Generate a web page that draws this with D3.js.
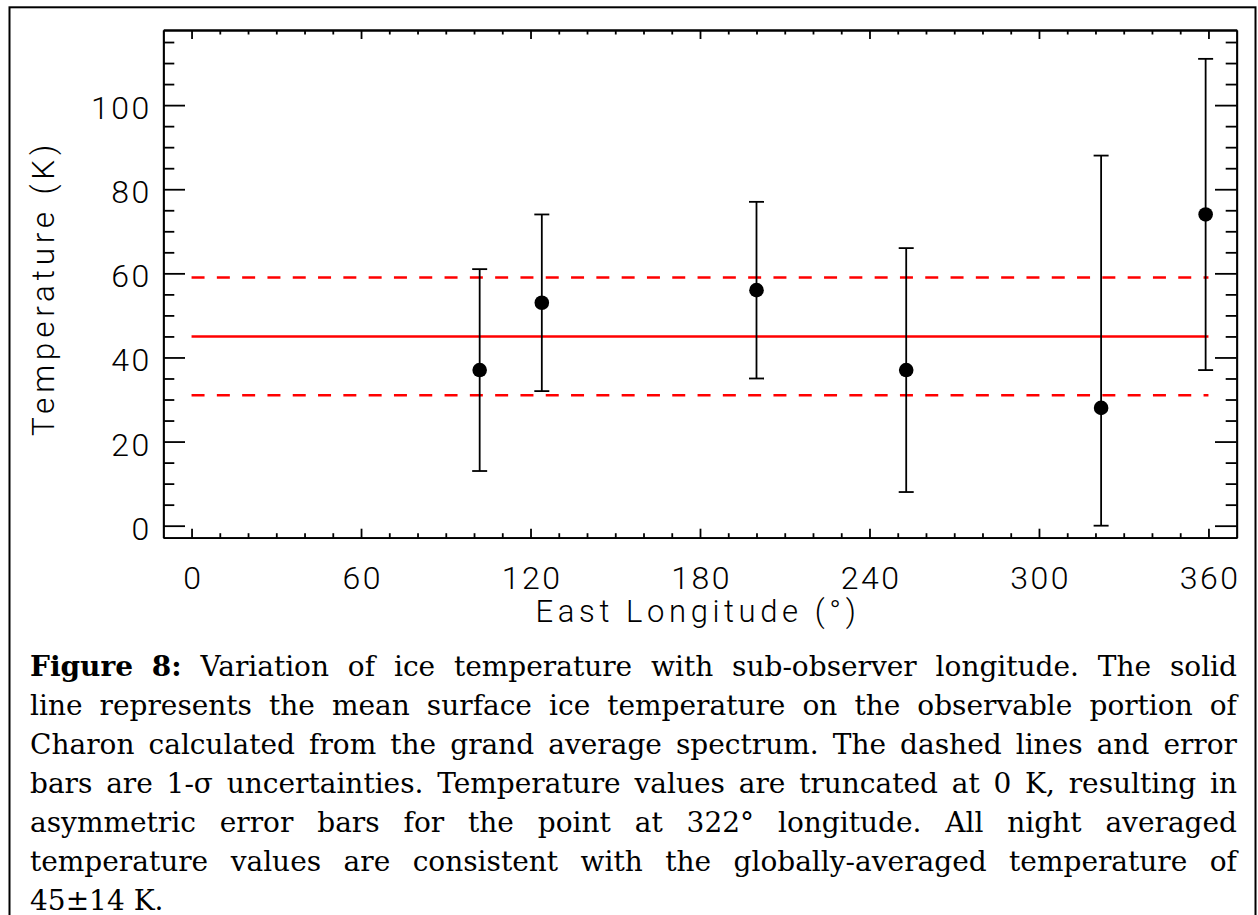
<!DOCTYPE html>
<html>
<head>
<meta charset="utf-8">
<script src="https://cdn.jsdelivr.net/npm/d3@7"></script>
<style>
  html, body { margin: 0; padding: 0; background: #fff; }
  svg { display: block; }
  .tick text { font-family: Roboto, "DejaVu Sans", sans-serif; font-weight: 300; }
</style>
</head>
<body>
<svg id="chart" width="1258" height="915"></svg>
<script>
// ---- data ----
const longitudes = [102, 124, 200, 253, 322, 359];
const temps      = [37, 53, 56, 37, 28, 74];
const errLow     = [13, 32, 35, 8, 0, 37];
const errHigh    = [61, 74, 77, 66, 88, 111];
const meanTemp   = 45;
const sigmaTemp  = 14;
const meanRange  = [0, 360];
const xTickLabels = [0, 60, 120, 180, 240, 300, 360];
const yTickLabels = [0, 20, 40, 60, 80, 100];
const xTitle = "East Longitude (°)";
const yTitle = "Temperature (K)";
const captionLines = [
  "Figure 8: Variation of ice temperature with sub-observer longitude. The solid",
  "line represents the mean surface ice temperature on the observable portion of",
  "Charon calculated from the grand average spectrum. The dashed lines and error",
  "bars are 1-σ uncertainties. Temperature values are truncated at 0 K, resulting in",
  "asymmetric error bars for the point at 322° longitude. All night averaged",
  "temperature values are consistent with the globally-averaged temperature of",
  "45±14 K."
];

// ---- layout ----
const svg = d3.select("#chart");
const L = 163.3, R = 1236.7, T = 30, B = 537.7;
const x = d3.scaleLinear().domain([-10, 370]).range([L, R]);
const y = d3.scaleLinear().domain([-2.857, 117.86]).range([B, T]);
const AX_W = 1.8;
const tickFont = 32;
const sansFont = "Roboto, 'DejaVu Sans', sans-serif";

// outer frame
svg.append("rect").attr("x", 9.5).attr("y", 7.3).attr("width", 1246).attr("height", 1000)
  .attr("fill", "none").attr("stroke", "#000").attr("stroke-width", 2);

function styleAxis(g) {
  g.select(".domain").attr("stroke", "#000").attr("stroke-width", AX_W);
  g.selectAll(".tick line").attr("stroke", "#000").attr("stroke-width", AX_W);
}

const xMinor = d3.range(0, 361, 10).filter(v => v % 60 !== 0);
const yMinor = d3.range(5, 116, 5).filter(v => v % 20 !== 0);

// bottom axis
const gB = svg.append("g").attr("transform", `translate(0,${B})`);
gB.append("g").call(d3.axisBottom(x).tickValues(xMinor).tickSizeInner(-4.5).tickSizeOuter(0).tickFormat(""))
  .call(styleAxis);
gB.append("g").call(d3.axisBottom(x).tickValues(xTickLabels).tickSizeInner(-9).tickSizeOuter(0).tickPadding(29).tickFormat(d3.format("d")))
  .call(styleAxis)
  .call(g => g.selectAll(".tick text").attr("font-size", tickFont).attr("fill", "#000")
    .attr("letter-spacing", 2.5).attr("dx", 1.2));

// top axis
const gT = svg.append("g").attr("transform", `translate(0,${T})`);
gT.append("g").call(d3.axisTop(x).tickValues(xMinor).tickSizeInner(-4.5).tickSizeOuter(0).tickFormat("")).call(styleAxis);
gT.append("g").call(d3.axisTop(x).tickValues(xTickLabels).tickSizeInner(-9).tickSizeOuter(0).tickFormat("")).call(styleAxis);

// left axis
const gL = svg.append("g").attr("transform", `translate(${L},0)`);
gL.append("g").call(d3.axisLeft(y).tickValues(yMinor).tickSizeInner(-11).tickSizeOuter(0).tickFormat("")).call(styleAxis);
gL.append("g").call(d3.axisLeft(y).tickValues(yTickLabels).tickSizeInner(-21.7).tickSizeOuter(0).tickPadding(11.5).tickFormat(d3.format("d")))
  .call(styleAxis)
  .call(g => g.selectAll(".tick text").attr("font-size", tickFont).attr("fill", "#000")
    .attr("dy", "0.42em").attr("letter-spacing", 2.5));

// right axis
const gR = svg.append("g").attr("transform", `translate(${R},0)`);
gR.append("g").call(d3.axisRight(y).tickValues(yMinor).tickSizeInner(-11).tickSizeOuter(0).tickFormat("")).call(styleAxis);
gR.append("g").call(d3.axisRight(y).tickValues(yTickLabels).tickSizeInner(-21.7).tickSizeOuter(0).tickFormat("")).call(styleAxis);

// axis titles
svg.append("text").attr("x", 698).attr("y", 622).attr("text-anchor", "middle")
  .attr("font-family", sansFont).attr("font-weight", 300)
  .attr("font-size", 31).attr("letter-spacing", 4.6).text(xTitle);
svg.append("text").attr("transform", `translate(53.5,288) rotate(-90)`).attr("text-anchor", "middle")
  .attr("font-family", sansFont).attr("font-weight", 300)
  .attr("font-size", 31.5).attr("letter-spacing", 4.8).text(yTitle);

// mean and sigma lines
const redLines = [
  { v: meanTemp, dash: null },
  { v: meanTemp + sigmaTemp, dash: "13,12.3" },
  { v: meanTemp - sigmaTemp, dash: "13,12.3" }
];
svg.append("g").selectAll("line").data(redLines).join("line")
  .attr("x1", x(meanRange[0])).attr("x2", x(meanRange[1]))
  .attr("y1", d => y(d.v)).attr("y2", d => y(d.v))
  .attr("stroke", "#ff0000").attr("stroke-width", 2.4)
  .attr("stroke-dasharray", d => d.dash);

// error bars
const pts = longitudes.map((lon, i) => ({ lon, t: temps[i], lo: errLow[i], hi: errHigh[i] }));
const eb = svg.append("g").attr("stroke", "#000").attr("stroke-width", 1.8);
eb.selectAll("line.v").data(pts).join("line").attr("class", "v")
  .attr("x1", d => x(d.lon)).attr("x2", d => x(d.lon)).attr("y1", d => y(d.lo)).attr("y2", d => y(d.hi));
eb.selectAll("line.ct").data(pts).join("line").attr("class", "ct")
  .attr("x1", d => x(d.lon) - 7.5).attr("x2", d => x(d.lon) + 7.5).attr("y1", d => y(d.hi)).attr("y2", d => y(d.hi));
eb.selectAll("line.cb").data(pts).join("line").attr("class", "cb")
  .attr("x1", d => x(d.lon) - 7.5).attr("x2", d => x(d.lon) + 7.5).attr("y1", d => y(d.lo)).attr("y2", d => y(d.lo));
svg.append("g").selectAll("circle").data(pts).join("circle")
  .attr("cx", d => x(d.lon)).attr("cy", d => y(d.t)).attr("r", 7.3).attr("fill", "#000");

// caption (justified)
const capL = 30, capR = 1237, capTop = 676, capPitch = 39;
const capFont = "'DejaVu Serif', 'Liberation Serif', serif";
// choose a size so the tightest line (line 4) fills the width with normal word spacing
const probe = svg.append("text").attr("font-family", capFont).attr("font-size", 24)
  .attr("x", -5000).attr("y", -5000).text(captionLines[3]);
const probeW = probe.node().getComputedTextLength();
probe.remove();
const capSize = Math.min(28, 24 * (capR - capL) / probeW);

const capG = svg.append("g");
captionLines.forEach((line, li) => {
  const words = line.split(" ");
  const texts = words.map((w, wi) => capG.append("text")
    .attr("y", capTop + li * capPitch)
    .attr("font-family", capFont).attr("font-size", capSize)
    .attr("font-weight", (li === 0 && wi < 2) ? "bold" : "normal")
    .attr("fill", "#000").text(w));
  const widths = texts.map(t => t.node().getComputedTextLength());
  const total = d3.sum(widths);
  const last = li === captionLines.length - 1;
  const gap = last ? capSize * 0.32 : (capR - capL - total) / (words.length - 1);
  let cx = capL;
  texts.forEach((t, i) => { t.attr("x", cx); cx += widths[i] + gap; });
});
</script>
</body>
</html>
